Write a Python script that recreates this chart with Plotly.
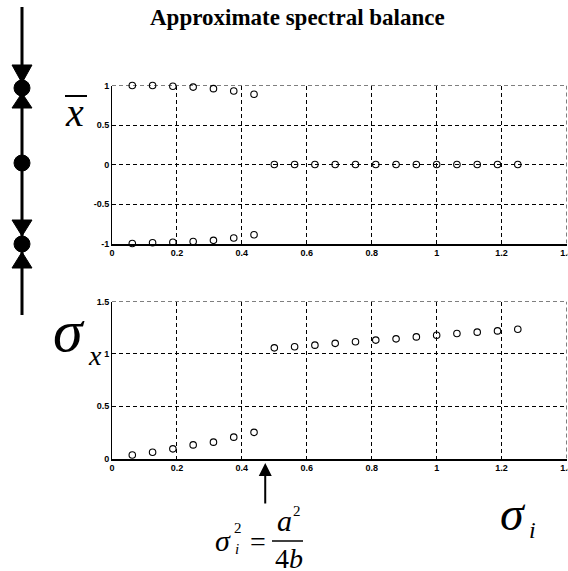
import plotly.graph_objects as go

# ---- data ----
sigma_i = [0.0625, 0.125, 0.1875, 0.25, 0.3125, 0.375, 0.4375,
           0.5, 0.5625, 0.625, 0.6875, 0.75, 0.8125, 0.875, 0.9375,
           1.0, 1.0625, 1.125, 1.1875, 1.25]

# mean of x: two symmetric branches below the threshold, zero above it
xbar_pos = [1.0, 1.0, 0.99, 0.98, 0.96, 0.93, 0.89]
xbar_neg = [-1.0, -0.99, -0.985, -0.975, -0.96, -0.93, -0.89]
xbar_zero = [0, 0, 0, 0, 0, 0, 0, 0, 0, 0, 0, 0, 0]

# standard deviation of x
sigma_x = [0.034, 0.06, 0.092, 0.13, 0.156, 0.204, 0.25,
           1.057, 1.067, 1.083, 1.10, 1.115, 1.131, 1.143, 1.162,
           1.178, 1.194, 1.207, 1.219, 1.235]

x_ticks = [0, 0.2, 0.4, 0.6, 0.8, 1.0, 1.2, 1.4]
x_labels = ["0", "0.2", "0.4", "0.6", "0.8", "1", "1.2", "1.4"]
y1_ticks = [-1, -0.5, 0, 0.5, 1]
y1_labels = ["-1", "-0.5", "0", "0.5", "1"]
y2_ticks = [0, 0.5, 1, 1.5]
y2_labels = ["0", "0.5", "1", "1.5"]
threshold = 0.472

W, H = 568, 571


def px(x):
    return x / W


def py(y):
    return 1 - y / H


n_low = len(xbar_pos)
marker = dict(symbol="circle-open", size=6.5, color="black", line=dict(width=1.1, color="black"))

fig = go.Figure()
fig.add_trace(go.Scatter(x=sigma_i[:n_low], y=xbar_pos, mode="markers", marker=marker,
                         xaxis="x", yaxis="y", cliponaxis=False))
fig.add_trace(go.Scatter(x=sigma_i[:n_low], y=xbar_neg, mode="markers", marker=marker,
                         xaxis="x", yaxis="y", cliponaxis=False))
fig.add_trace(go.Scatter(x=sigma_i[n_low:], y=xbar_zero, mode="markers", marker=marker,
                         xaxis="x", yaxis="y", cliponaxis=False))
fig.add_trace(go.Scatter(x=sigma_i, y=sigma_x, mode="markers", marker=marker,
                         xaxis="x2", yaxis="y2", cliponaxis=False))

tickfont = dict(family="Liberation Sans", size=9, color="black")
GRID_DASH = "4px,3px"


def xax(anchor, dom):
    return dict(domain=dom, anchor=anchor, range=[0, 1.4], tickvals=x_ticks,
                ticktext=["<b>%s</b>" % t for t in x_labels], tickfont=tickfont,
                ticklabeloverflow="allow", automargin=False,
                showgrid=True, gridcolor="black", gridwidth=1, griddash=GRID_DASH,
                showline=True, linecolor="black", linewidth=1.5, zeroline=False,
                ticks="inside", ticklen=3, tickcolor="black", fixedrange=True)


def yax(anchor, dom, rng, tv, tt):
    return dict(domain=dom, anchor=anchor, range=rng, tickvals=tv,
                ticktext=["<b>%s</b>" % t for t in tt], tickfont=tickfont,
                ticklabeloverflow="allow", automargin=False,
                showgrid=True, gridcolor="black", gridwidth=1, griddash=GRID_DASH,
                showline=True, linecolor="black", linewidth=1, zeroline=False,
                ticks="inside", ticklen=3, tickcolor="black", fixedrange=True)


xdom = [px(112), px(566.5)]
y1dom = [py(243.5), py(85.5)]
y2dom = [py(458.5), py(301.5)]
fig.update_layout(
    width=W, height=H, margin=dict(l=0, r=0, t=0, b=0, autoexpand=False),
    paper_bgcolor="white", plot_bgcolor="white", showlegend=False,
    xaxis=xax("y", xdom),
    yaxis=yax("x", y1dom, [-1, 1], y1_ticks, y1_labels),
    xaxis2=xax("y2", xdom),
    yaxis2=yax("x2", y2dom, [0, 1.5], y2_ticks, y2_labels),
)

serif = "Times New Roman, Liberation Serif, DejaVu Serif, serif"
annos = []


def txt(x, y, s, size, bold=False, italic=False, height=None):
    if italic:
        s = "<i>%s</i>" % s
    if bold:
        s = "<b>%s</b>" % s
    a = dict(x=px(x), y=py(y), xref="paper", yref="paper", text=s, showarrow=False,
             xanchor="center", yanchor="middle",
             font=dict(family=serif, size=size, color="black"))
    if height:
        a["height"] = height
    annos.append(a)


txt(297, 18, "Approximate spectral balance", 23, bold=True)
# x-bar label
txt(74, 112, "x", 40, italic=True)
# sigma_x label
txt(69, 331, "σ", 60, italic=True, height=50)
txt(95, 355, "x", 28, italic=True)
# sigma_i label
txt(513, 513, "σ", 48, italic=True)
txt(532, 530, "i", 24, italic=True)
# threshold formula
txt(223, 540, "σ", 30, italic=True)
txt(238, 528, "2", 15)
txt(237, 549, "i", 15, italic=True)
txt(258, 541, "=", 28)
txt(284, 520, "a", 30, italic=True)
txt(297, 511, "2", 15)
txt(289, 558, "4<i>b</i>", 28, height=22)

# arrow pointing at the threshold on the lower axis
annos.append(dict(x=threshold, y=py(463), xref="x2", yref="paper", ax=0, ay=42,
                  axref="pixel", ayref="pixel", text="", showarrow=True,
                  arrowhead=2, arrowsize=1.3, arrowwidth=2, arrowcolor="black"))
fig.update_layout(annotations=annos)

shapes = []
# dashed top and right edges of both panels
for xr, yr, yt in (("x", "y", 1), ("x2", "y2", 1.5)):
    shapes.append(dict(type="line", xref=xr, yref=yr, x0=0, x1=1.4, y0=yt, y1=yt,
                       line=dict(color="black", width=1, dash=GRID_DASH)))
for xr, yr, yb, yt in (("x", "y", -1, 1), ("x2", "y2", 0, 1.5)):
    shapes.append(dict(type="line", xref=xr, yref=yr, x0=1.4, x1=1.4, y0=yb, y1=yt,
                       line=dict(color="black", width=1, dash=GRID_DASH)))

# overbar on x
shapes.append(dict(type="line", xref="paper", yref="paper", x0=px(65), x1=px(87),
                   y0=py(96), y1=py(96), line=dict(color="black", width=2)))
# fraction bar
shapes.append(dict(type="line", xref="paper", yref="paper", x0=px(272), x1=px(303),
                   y0=py(541), y1=py(541), line=dict(color="black", width=1.5)))

# phase line with fixed points and flow arrows
lx = 22
shapes.append(dict(type="line", xref="paper", yref="paper", x0=px(lx), x1=px(lx),
                   y0=py(7), y1=py(315), line=dict(color="black", width=3)))


def tri(yb, ya):
    # triangle with base at yb and apex at ya
    return dict(type="path", xref="paper", yref="paper",
                path="M %f %f L %f %f L %f %f Z" % (px(lx - 10), py(yb), px(lx + 10), py(yb), px(lx), py(ya)),
                fillcolor="black", line=dict(color="black", width=1))


def dot(yc, r=8):
    return dict(type="circle", xref="paper", yref="paper", x0=px(lx - r), x1=px(lx + r),
                y0=py(yc + r), y1=py(yc - r), fillcolor="black", line=dict(color="black", width=1))


shapes += [tri(65, 83), dot(88), tri(108, 93), dot(163),
           tri(220, 236), dot(244), tri(268, 252)]
fig.update_layout(shapes=shapes)

fig.write_html("out.html")
